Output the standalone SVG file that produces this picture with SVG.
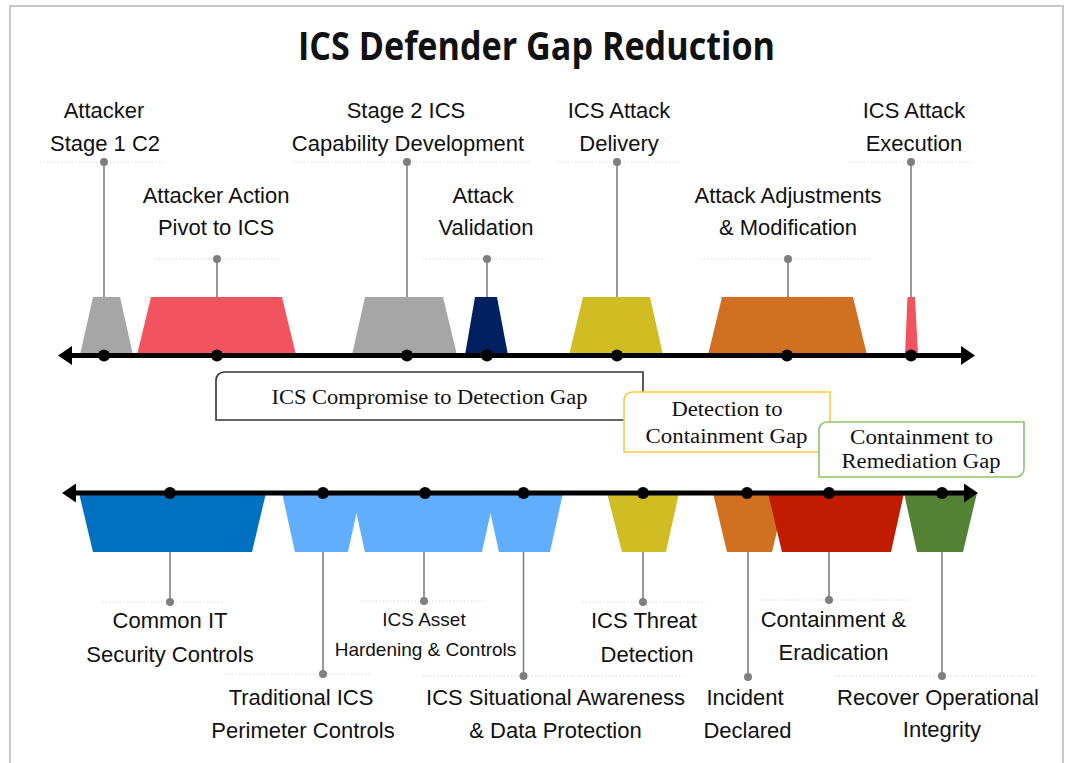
<svg xmlns="http://www.w3.org/2000/svg" width="1070" height="763" viewBox="0 0 1070 763">
  <style>
    .lbl { font-family: "Liberation Sans", Arial, sans-serif; font-size: 22px; fill: #111; text-anchor: middle; }
    .lbl-sm { font-family: "Liberation Sans", Arial, sans-serif; font-size: 19px; fill: #111; text-anchor: middle; }
    .gap { font-family: "Liberation Serif", "Times New Roman", serif; font-size: 20.5px; fill: #111; text-anchor: middle; }
    .title { font-family: "Open Sans", "Noto Sans", sans-serif; font-weight: 700; font-size: 40px; fill: #111; text-anchor: middle; }
    .leader { stroke: #7f7f7f; stroke-width: 1.6; fill: none; }
    .pin { fill: #7f7f7f; }
    .sep { stroke: #d6d6d6; stroke-width: 1; stroke-dasharray: 1.5 2; fill: none; }
    .axis { stroke: #000; stroke-width: 5; fill: none; }
    .tick { fill: #000; }
    .gapbox { fill: #fff; stroke-width: 1.6; }
  </style>

  <rect width="1070" height="763" fill="#fff"/>
  <!-- page frame -->
  <path d="M10,770 V6 H1063 V770" fill="none" stroke="#c8c8c8" stroke-width="2"/>

  <text id="title" class="title" x="536.5" y="60" textLength="477" lengthAdjust="spacingAndGlyphs">ICS Defender Gap Reduction</text>

  <!-- attacker phases (above the upper timeline) -->
  <g id="attacker-stage1-c2">
    <polygon points="80,355 93,297 120,297 133,355" fill="#a6a6a6"/>
    <line class="sep" x1="40" y1="162" x2="163" y2="162"/>
    <text class="lbl" x="104" y="118">Attacker</text>
    <text class="lbl" x="105" y="151">Stage 1 C2</text>
  </g>
  <g id="attacker-pivot">
    <polygon points="137,355 151,297 282,297 296,355" fill="#f2545f"/>
    <line class="sep" x1="155" y1="259" x2="280" y2="259"/>
    <text class="lbl" x="216" y="203">Attacker Action</text>
    <text class="lbl" x="216" y="235">Pivot to ICS</text>
  </g>
  <g id="stage2-capability">
    <polygon points="352,355 365,297 443,297 457,355" fill="#a6a6a6"/>
    <line class="sep" x1="293" y1="162" x2="530" y2="162"/>
    <text class="lbl" x="406" y="118">Stage 2 ICS</text>
    <text class="lbl" x="408" y="151">Capability Development</text>
  </g>
  <g id="attack-validation">
    <polygon points="465,355 475,297 497,297 508,355" fill="#002060"/>
    <line class="sep" x1="422" y1="259" x2="545" y2="259"/>
    <text class="lbl" x="483" y="203">Attack</text>
    <text class="lbl" x="486" y="235">Validation</text>
  </g>
  <g id="attack-delivery">
    <polygon points="569,355 583,297 650,297 663,355" fill="#cfbd23"/>
    <line class="sep" x1="557" y1="162" x2="680" y2="162"/>
    <text class="lbl" x="619" y="118">ICS Attack</text>
    <text class="lbl" x="619" y="151">Delivery</text>
  </g>
  <g id="attack-adjustments">
    <polygon points="708,355 722,297 853,297 867,355" fill="#d07020"/>
    <line class="sep" x1="700" y1="259" x2="870" y2="259"/>
    <text class="lbl" x="788" y="203">Attack Adjustments</text>
    <text class="lbl" x="788" y="235">&amp; Modification</text>
  </g>
  <g id="attack-execution">
    <polygon points="905,355 907.5,297 915,297 918,355" fill="#f2545f"/>
    <line class="sep" x1="850" y1="162" x2="973" y2="162"/>
    <text class="lbl" x="914" y="118">ICS Attack</text>
    <text class="lbl" x="914" y="151">Execution</text>
  </g>

  <!-- defender phases (below the lower timeline) -->
  <g id="common-it-controls">
    <polygon points="79,493 266,493 252,552 93,552" fill="#0070c0"/>
    <line class="sep" x1="102" y1="602" x2="225" y2="602"/>
    <text class="lbl" x="170" y="628">Common IT</text>
    <text class="lbl" x="170" y="662">Security Controls</text>
  </g>
  <g id="perimeter-controls">
    <polygon points="282,493 361,493 348,552 295,552" fill="#61aeff"/>
    <line class="sep" x1="225" y1="674" x2="370" y2="674"/>
    <text class="lbl" x="301" y="705">Traditional ICS</text>
    <text class="lbl" x="303" y="738">Perimeter Controls</text>
  </g>
  <g id="asset-hardening">
    <polygon points="352,493 495,493 482,552 365,552" fill="#61aeff"/>
    <line class="sep" x1="362" y1="601" x2="485" y2="601"/>
    <text class="lbl-sm" x="424" y="626">ICS Asset</text>
    <text class="lbl-sm" x="425.5" y="656">Hardening &amp; Controls</text>
  </g>
  <g id="situational-awareness">
    <polygon points="486,493 563,493 550,552 499,552" fill="#61aeff"/>
    <line class="sep" x1="423" y1="676" x2="683" y2="676"/>
    <text class="lbl" x="555.5" y="705">ICS Situational Awareness</text>
    <text class="lbl" x="555.5" y="738">&amp; Data Protection</text>
  </g>
  <g id="threat-detection">
    <polygon points="607,493 679,493 666,552 622,552" fill="#cfbd23"/>
    <line class="sep" x1="582" y1="602" x2="705" y2="602"/>
    <text class="lbl" x="644" y="628">ICS Threat</text>
    <text class="lbl" x="647" y="662">Detection</text>
  </g>
  <g id="incident-declared">
    <polygon points="713,493 786,493 772,552 727,552" fill="#d07020"/>
    <text class="lbl" x="745" y="705">Incident</text>
    <text class="lbl" x="747.5" y="738">Declared</text>
  </g>
  <g id="containment-eradication">
    <polygon points="768,493 904,493 891,552 782,552" fill="#c11b00"/>
    <line class="sep" x1="760" y1="600" x2="910" y2="600"/>
    <text class="lbl" x="833.5" y="627">Containment &amp;</text>
    <text class="lbl" x="833.5" y="660">Eradication</text>
  </g>
  <g id="recover-integrity">
    <polygon points="904,493 977,493 963,552 917,552" fill="#548235"/>
    <line class="sep" x1="835" y1="676" x2="1038" y2="676"/>
    <text class="lbl" x="938" y="705">Recover Operational</text>
    <text class="lbl" x="942" y="737">Integrity</text>
  </g>

  <!-- gap call-outs -->
  <g id="gap-compromise-detection">
    <path class="gapbox" stroke="#333" d="M216,380 A8,8 0 0 1 224,372 H643 V412 A8,8 0 0 1 635,420 H216 Z"/>
    <text class="gap" x="429.5" y="404" textLength="316" lengthAdjust="spacingAndGlyphs">ICS Compromise to Detection Gap</text>
  </g>
  <g id="gap-detection-containment">
    <path class="gapbox" stroke="#ffc93c" d="M624,400 A8,8 0 0 1 632,392 H830 V444 A8,8 0 0 1 822,452 H624 Z"/>
    <text class="gap" x="727" y="416" textLength="111" lengthAdjust="spacingAndGlyphs">Detection to</text>
    <text class="gap" x="726.5" y="443" textLength="162" lengthAdjust="spacingAndGlyphs">Containment Gap</text>
  </g>
  <g id="gap-containment-remediation">
    <path class="gapbox" stroke="#8cc56a" d="M819,430 A8,8 0 0 1 827,422 H1024 V469 A8,8 0 0 1 1016,477 H819 Z"/>
    <text class="gap" x="921.5" y="444" textLength="143" lengthAdjust="spacingAndGlyphs">Containment to</text>
    <text class="gap" x="921" y="468" textLength="159" lengthAdjust="spacingAndGlyphs">Remediation Gap</text>
  </g>

  <!-- leader lines from phases to their labels -->
  <g id="connectors">
    <line class="leader" x1="104" y1="162" x2="104" y2="297"/>
    <line class="leader" x1="217" y1="259" x2="217" y2="297"/>
    <line class="leader" x1="407" y1="162" x2="407" y2="297"/>
    <line class="leader" x1="487" y1="259" x2="487" y2="297"/>
    <line class="leader" x1="617" y1="162" x2="617" y2="297"/>
    <line class="leader" x1="788" y1="259" x2="788" y2="297"/>
    <line class="leader" x1="911" y1="162" x2="911" y2="297"/>
    <circle class="pin" cx="104" cy="162" r="4"/>
    <circle class="pin" cx="217" cy="259" r="4"/>
    <circle class="pin" cx="407" cy="162" r="4"/>
    <circle class="pin" cx="487" cy="259" r="4"/>
    <circle class="pin" cx="617" cy="162" r="4"/>
    <circle class="pin" cx="788" cy="259" r="4"/>
    <circle class="pin" cx="911" cy="162" r="4"/>

    <line class="leader" x1="170" y1="552" x2="170" y2="602"/>
    <line class="leader" x1="323" y1="552" x2="323" y2="674"/>
    <line class="leader" x1="424" y1="552" x2="424" y2="601"/>
    <line class="leader" x1="523.5" y1="552" x2="523.5" y2="676"/>
    <line class="leader" x1="643" y1="552" x2="643" y2="602"/>
    <line class="leader" x1="748" y1="552" x2="748" y2="677"/>
    <line class="leader" x1="829" y1="552" x2="829" y2="600"/>
    <line class="leader" x1="942" y1="552" x2="942" y2="676"/>
    <circle class="pin" cx="170" cy="602" r="4"/>
    <circle class="pin" cx="323" cy="674" r="4"/>
    <circle class="pin" cx="424" cy="601" r="4"/>
    <circle class="pin" cx="523.5" cy="676" r="4"/>
    <circle class="pin" cx="643" cy="602" r="4"/>
    <circle class="pin" cx="748" cy="677" r="4"/>
    <circle class="pin" cx="829" cy="600" r="4"/>
    <circle class="pin" cx="942" cy="676" r="4"/>
  </g>

  <!-- timelines -->
  <g id="timeline-attacker">
    <line class="axis" x1="68" y1="355.5" x2="965" y2="355.5"/>
    <polygon class="tick" points="58,355.5 72,346 72,365"/>
    <polygon class="tick" points="975,355.5 961,346 961,365"/>
    <circle class="tick" cx="104" cy="355.5" r="6"/>
    <circle class="tick" cx="217" cy="355.5" r="6"/>
    <circle class="tick" cx="407" cy="355.5" r="6"/>
    <circle class="tick" cx="487" cy="355.5" r="6"/>
    <circle class="tick" cx="617" cy="355.5" r="6"/>
    <circle class="tick" cx="787" cy="355.5" r="6"/>
    <circle class="tick" cx="911" cy="355.5" r="6"/>
  </g>
  <g id="timeline-defender">
    <line class="axis" x1="72" y1="493" x2="968" y2="493"/>
    <polygon class="tick" points="62,493 76,483.5 76,502.5"/>
    <polygon class="tick" points="978,493 964,483.5 964,502.5"/>
    <circle class="tick" cx="170" cy="493" r="6"/>
    <circle class="tick" cx="323" cy="493" r="6"/>
    <circle class="tick" cx="425" cy="493" r="6"/>
    <circle class="tick" cx="523.5" cy="493" r="6"/>
    <circle class="tick" cx="643" cy="493" r="6"/>
    <circle class="tick" cx="747" cy="493" r="6"/>
    <circle class="tick" cx="829" cy="493" r="6"/>
    <circle class="tick" cx="942" cy="493" r="6"/>
  </g>
</svg>
